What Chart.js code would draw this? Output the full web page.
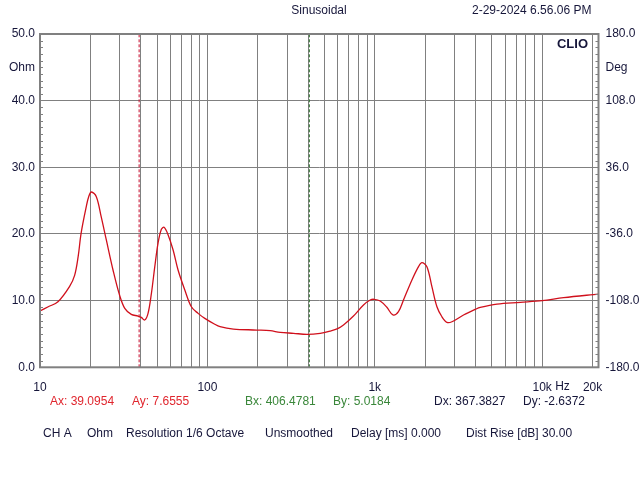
<!DOCTYPE html>
<html>
<head>
<meta charset="utf-8">
<script src="https://cdn.jsdelivr.net/npm/chart.js@4"></script>
<style>
  body { margin: 0; background: #ffffff; }
  canvas { display: block; }
</style>
</head>
<body>
<canvas id="clioChart" width="640" height="480"></canvas>
<script>
// IMPEDANCE CURVE
const freqHz = [10, 11.2, 12.8, 15.0, 16.1, 16.9, 17.6, 18.9, 19.6, 20.3, 21.7, 23.2, 24.9, 27.3, 29.9, 32.1, 35.1, 38.5, 40.3, 42.2, 44.2, 46.3, 48.5, 50.7, 53.1, 55.1, 58.2, 62.4, 66.8, 73.3, 80.2, 88.0, 96.5, 110, 119, 143, 197, 237, 272, 327, 393, 472, 541, 600, 650, 746, 856, 939, 990, 1077, 1181, 1283, 1385, 1484, 1667, 1825, 1912, 2048, 2194, 2351, 2518, 2698, 2890, 3390, 3983, 4266, 5368, 7400, 10000, 13430, 21700];
const impedanceOhm = [8.44, 9.08, 9.83, 12.1, 13.8, 16.6, 20.1, 24.1, 25.7, 26.3, 25.6, 22.6, 19.1, 14.6, 10.8, 8.84, 7.94, 7.69, 7.49, 7.09, 8.09, 11.1, 15.1, 18.6, 20.7, 21.0, 19.9, 17.6, 14.6, 11.6, 9.08, 8.09, 7.34, 6.5, 6.1, 5.74, 5.59, 5.49, 5.24, 5.10, 4.95, 5.10, 5.44, 5.8, 6.34, 7.69, 9.35, 10.09, 10.2, 9.95, 9.0, 7.85, 8.35, 10.09, 13.1, 15.1, 15.7, 15.1, 12.1, 9.08, 7.58, 6.74, 6.83, 7.84, 8.69, 8.99, 9.49, 9.75, 10.0, 10.45, 10.99];

// AXES
const freqGridHz = [];
for (const decade of [10, 100, 1000, 10000]) {
  for (let m = 1; m <= 9; m++) {
    if (decade * m <= 20000) freqGridHz.push(decade * m);
  }
}
const freqLabels = { 10: '10', 100: '100', 1000: '1k', 10000: '10k', 20000: '20k' };
const ohmTicks = [0, 10, 20, 30, 40, 50];
const degTicks = [-180, -108, -36, 36, 108, 180];

// CURSORS (readouts as shown by the analyser)
const cursorA = { x: 39.0954, y: 7.6555 };
const cursorB = { x: 406.4781, y: 5.0184 };
const cursorDelta = { x: '367.3827', y: '-2.6372' };

const gridGray = '#808080';
const textColor = '#16163a';
const font12 = '12px "Liberation Sans", Arial, sans-serif';

const curvePoints = freqHz.map((f, i) => ({ x: f, y: impedanceOhm[i] }));

// plot frame, minor ticks and the text around the plot
const decorations = {
  id: 'decorations',
  afterDraw(chart) {
    const c = chart.ctx;
    const area = chart.chartArea;
    const yL = chart.scales.y;
    const xS = chart.scales.x;
    c.save();
    c.strokeStyle = gridGray;
    c.lineWidth = 1;
    for (let v = 1; v < 50; v++) {
      if (v % 10 === 0) continue;
      const py = Math.round(yL.getPixelForValue(v)) + 0.5;
      c.beginPath();
      c.moveTo(area.left, py); c.lineTo(area.left + 3, py);
      c.moveTo(area.right, py); c.lineTo(area.right - 3, py);
      c.stroke();
    }
    c.lineWidth = 2;
    c.strokeRect(area.left, area.top, area.right - area.left, area.bottom - area.top);

    c.font = font12;
    c.textBaseline = 'middle';
    c.fillStyle = textColor;
    c.textAlign = 'center';
    c.fillText('Sinusoidal', 319, 11);
    c.textAlign = 'left';
    c.fillText('2-29-2024 6.56.06 PM', 472, 11);
    c.fillText('Hz', xS.getPixelForValue(10000) + 13, 387);

    c.font = 'bold 13px "Liberation Sans", Arial, sans-serif';
    c.textAlign = 'right';
    c.fillText('CLIO', 588, 44);

    c.font = font12;
    c.textAlign = 'left';
    c.fillStyle = '#e0262e';
    c.fillText('Ax: ' + cursorA.x.toFixed(4), 50, 402);
    c.fillText('Ay: ' + cursorA.y.toFixed(4), 132, 402);
    c.fillStyle = '#3a873a';
    c.fillText('Bx: ' + cursorB.x.toFixed(4), 245, 402);
    c.fillText('By: ' + cursorB.y.toFixed(4), 333, 402);
    c.fillStyle = textColor;
    c.fillText('Dx: ' + cursorDelta.x, 434, 402);
    c.fillText('Dy: ' + cursorDelta.y, 523, 402);

    c.fillText('CH A', 43, 434);
    c.fillText('Ohm', 87, 434);
    c.fillText('Resolution 1/6 Octave', 126, 434);
    c.fillText('Unsmoothed', 265, 434);
    c.fillText('Delay [ms] 0.000', 351, 434);
    c.fillText('Dist Rise [dB] 30.00', 466, 434);
    c.restore();
  }
};

const ctx = document.getElementById('clioChart').getContext('2d');
const clioChart = new Chart(ctx, {
  type: 'scatter',
  data: {
    datasets: [{
      data: curvePoints,
      showLine: true,
      borderColor: '#d0101c',
      borderWidth: 1.3,
      pointRadius: 0,
      tension: 0.35,
      yAxisID: 'y'
    }, {
      data: [{ x: cursorA.x, y: 0 }, { x: cursorA.x, y: 50 }],
      showLine: true,
      borderColor: '#c81030',
      borderWidth: 1,
      borderDash: [3, 2],
      pointRadius: 0,
      yAxisID: 'y'
    }, {
      data: [{ x: cursorB.x, y: 0 }, { x: cursorB.x, y: 50 }],
      showLine: true,
      borderColor: '#2a6e2a',
      borderWidth: 1,
      borderDash: [3, 2],
      pointRadius: 0,
      yAxisID: 'y'
    }]
  },
  options: {
    responsive: false,
    animation: false,
    devicePixelRatio: 1,
    layout: { padding: { top: 34, left: 0, right: 0, bottom: 0 } },
    plugins: { legend: { display: false }, tooltip: { enabled: false } },
    scales: {
      x: {
        type: 'logarithmic',
        min: 10,
        max: 21700,
        afterBuildTicks: (scale) => { scale.ticks = freqGridHz.map(v => ({ value: v })) },
        afterFit: (scale) => { scale.height = 480 - 367.3 },
        grid: { color: gridGray, lineWidth: 1, drawTicks: false },
        border: { display: false },
        ticks: {
          autoSkip: false,
          maxRotation: 0,
          padding: 13,
          color: textColor,
          font: { family: '"Liberation Sans", Arial, sans-serif', size: 12 },
          callback: (v) => freqLabels[v] || ''
        }
      },
      y: {
        position: 'left',
        min: 0,
        max: 50,
        afterBuildTicks: (scale) => { scale.ticks = ohmTicks.concat([45]).map(v => ({ value: v })) },
        afterFit: (scale) => { scale.width = 40 },
        grid: {
          color: (c) => (c.tick && c.tick.value === 45 ? 'rgba(0,0,0,0)' : gridGray),
          drawTicks: false
        },
        border: { display: false },
        ticks: {
          padding: 5,
          color: textColor,
          font: { family: '"Liberation Sans", Arial, sans-serif', size: 12 },
          callback: (v) => (v === 45 ? 'Ohm' : v.toFixed(1))
        }
      },
      yDeg: {
        position: 'right',
        min: -180,
        max: 180,
        afterBuildTicks: (scale) => { scale.ticks = degTicks.concat([144]).map(v => ({ value: v })) },
        afterFit: (scale) => { scale.width = 640 - 598.5 },
        grid: { drawOnChartArea: false, drawTicks: false },
        border: { display: false },
        ticks: {
          padding: 7,
          color: textColor,
          font: { family: '"Liberation Sans", Arial, sans-serif', size: 12 },
          callback: (v) => (v === 144 ? 'Deg' : v.toFixed(1))
        }
      }
    }
  },
  plugins: [decorations]
});
</script>
</body>
</html>
